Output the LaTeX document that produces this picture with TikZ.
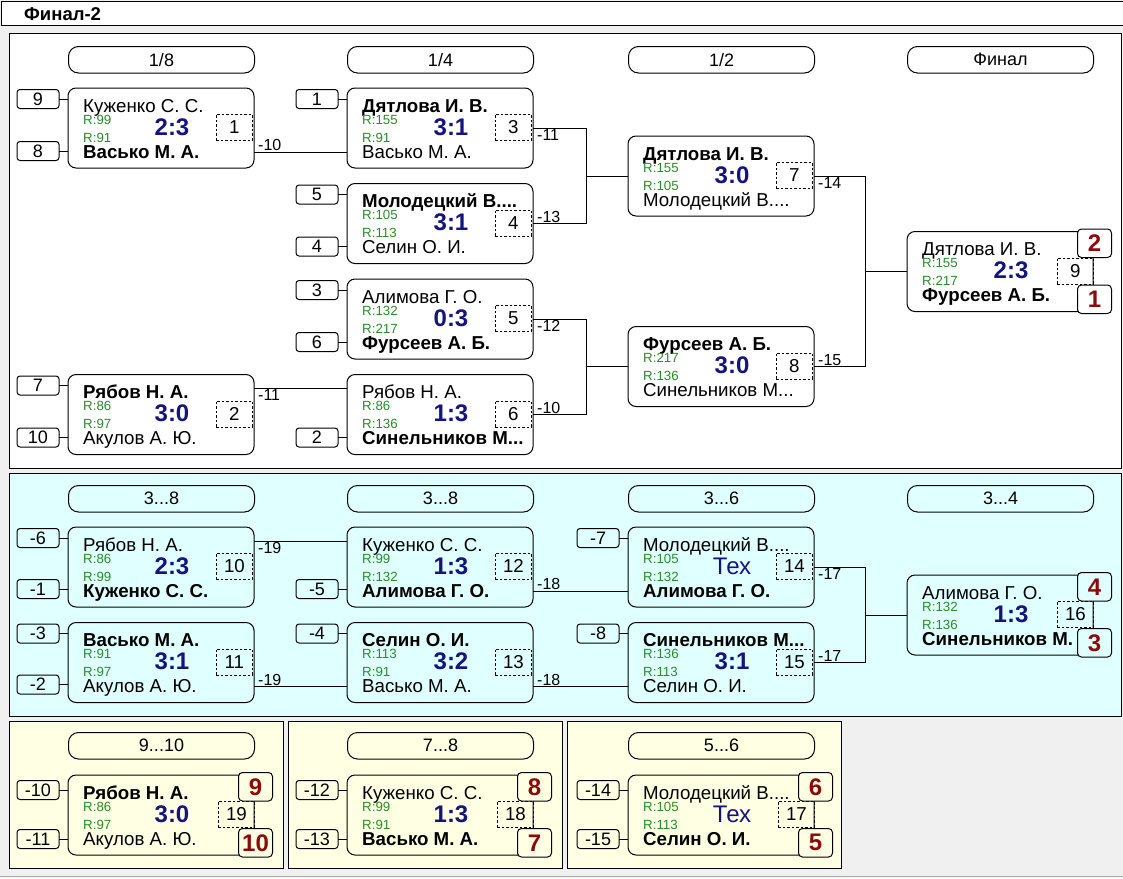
\documentclass[tikz,border=0pt]{standalone}
\usepackage{fontspec}
\setmainfont{Liberation Sans}
\definecolor{bggray}{RGB}{240,240,240}
\definecolor{cyanbg}{RGB}{224,255,255}
\definecolor{yelbg}{RGB}{255,255,228}
\definecolor{scorecol}{RGB}{20,20,128}
\definecolor{rcol}{RGB}{40,140,40}
\definecolor{placecol}{RGB}{140,10,10}
\definecolor{edgegray}{RGB}{170,170,170}
\tikzset{
  hdrbox/.style={draw, line width=1pt, rounded corners=10pt, minimum width=186pt, minimum height=26.5pt, inner sep=0pt, anchor=north west, font=\fontsize{18}{20}\selectfont},
  matchbox/.style={draw, line width=1pt, rounded corners=8pt, minimum width=186pt, minimum height=80pt, inner sep=0pt, outer sep=0pt, anchor=north west},
  seedbox/.style={draw, line width=1pt, rounded corners=3pt, minimum width=42pt, minimum height=19pt, inner sep=0pt, outer sep=0pt, font=\fontsize{18}{20}\selectfont},
  numbox/.style={draw, dash pattern=on 2.5pt off 2pt, line width=0.8pt, minimum width=36pt, minimum height=26pt, inner sep=0pt, anchor=north west, font=\fontsize{18.7}{20}\selectfont},
  placebox/.style={draw, line width=1pt, rounded corners=4pt, minimum width=34pt, minimum height=28.5pt, inner sep=0pt, anchor=north west, font=\fontsize{24}{26}\selectfont\bfseries, text=placecol},
  nametext/.style={anchor=base west, inner sep=0pt, font=\fontsize{18.7}{20}\selectfont},
  rtext/.style={anchor=base west, inner sep=0pt, text=rcol, font=\fontsize{13.3}{14}\selectfont},
  scoretext/.style={anchor=base, inner sep=0pt, text=scorecol, font=\fontsize{24}{26}\selectfont\bfseries},
  lbl/.style={inner sep=0pt, font=\fontsize{16}{17}\selectfont},
  conn/.style={line width=1pt},
}
% #1 number, #2 L, #3 T, #4 top name, #5 R1, #6 R2, #7 score, #8 bottom name, #9 dashed box x offset
\newcommand{\mt}[9]{%
  \node[matchbox] (m#1) at (#2,#3) {};
  \node[nametext] (m#1t) at (#2+15,#3+24) {#4};
  \node[rtext] (m#1ra) at (#2+15,#3+36) {R:#5};
  \node[rtext] (m#1rb) at (#2+15,#3+54) {R:#6};
  \node[scoretext] (m#1s) at (#2+104,#3+47) {#7};
  \node[nametext] (m#1b) at (#2+15,#3+70) {#8};
  \node[numbox] (m#1n) at (#2+#9,#3+26) {#1};
}
% #1 match number, #2 L, #3 T, #4 text, #5 offset (center y from T)
\newcommand{\sd}[5]{%
  \node[seedbox] (s#1x#5) at (#2-30,#3+#5) {#4};
  \draw[conn] (s#1x#5.east) -- (m#1.west |- s#1x#5);
}
% #1 match number, #2 L, #3 T, #4 top place, #5 bottom place, #6 fill
\newcommand{\pl}[6]{%
  \node[placebox, fill=#6] (p#1a) at (#2+170,#3-3) {#4};
  \node[placebox, fill=#6] (p#1b) at (#2+170,#3+53) {#5};
}
\begin{document}
\begin{tikzpicture}[x=1pt,y=-1pt]
\useasboundingbox (0,0) rectangle (1123,878);
\fill[bggray] (0,0) rectangle (1123,878);
\draw[line width=1pt, fill=white] (1,1) rectangle (1130,25);
\node[anchor=base west, inner sep=0pt, font=\fontsize{18.5}{20}\selectfont\bfseries] (title) at (24,20) {Финал-2};
\draw[edgegray, line width=1pt] (0,876) -- (1123,876);

% panels
\draw[line width=1pt, fill=white] (9.5,33) rectangle (1121,468);
\draw[line width=1pt, fill=cyanbg] (9.5,473.5) rectangle (1121,716);
\draw[line width=1pt, fill=yelbg] (9.5,721) rectangle (283,868);
\draw[line width=1pt, fill=yelbg] (288,721) rectangle (562,868);
\draw[line width=1pt, fill=yelbg] (567,721) rectangle (841,868);

% headers
\node[hdrbox] (h1) at (68,46) {1/8};
\node[hdrbox] (h2) at (347,46) {1/4};
\node[hdrbox] (h3) at (628,46) {1/2};
\node[hdrbox] (h4) at (907,46) {Финал};
\node[hdrbox] (h5) at (68,485) {3...8};
\node[hdrbox] (h6) at (347,485) {3...8};
\node[hdrbox] (h7) at (628,485) {3...6};
\node[hdrbox] (h8) at (907,485) {3...4};
\node[hdrbox] (h9) at (68,732) {9...10};
\node[hdrbox] (h10) at (347,732) {7...8};
\node[hdrbox] (h11) at (628,732) {5...6};

% ---------- main panel
\mt{1}{68}{88}{Куженко С. С.}{99}{91}{2:3}{\bfseries Васько М. А.}{148}
\sd{1}{68}{88}{9}{11}\sd{1}{68}{88}{8}{63}
\mt{2}{68}{374.5}{\bfseries Рябов Н. А.}{86}{97}{3:0}{Акулов А. Ю.}{148}
\sd{2}{68}{374.5}{7}{11}\sd{2}{68}{374.5}{10}{63}
\mt{3}{347}{88}{\bfseries Дятлова И. В.}{155}{91}{3:1}{Васько М. А.}{148}
\sd{3}{347}{88}{1}{11}
\mt{4}{347}{183.5}{\bfseries Молодецкий В....}{105}{113}{3:1}{Селин О. И.}{148}
\sd{4}{347}{183.5}{5}{11}\sd{4}{347}{183.5}{4}{63}
\mt{5}{347}{279}{Алимова Г. О.}{132}{217}{0:3}{\bfseries Фурсеев А. Б.}{148}
\sd{5}{347}{279}{3}{11}\sd{5}{347}{279}{6}{63}
\mt{6}{347}{374.5}{Рябов Н. А.}{86}{136}{1:3}{\bfseries Синельников М...}{148}
\sd{6}{347}{374.5}{2}{63}
\mt{7}{628}{136}{\bfseries Дятлова И. В.}{155}{105}{3:0}{Молодецкий В....}{148}
\mt{8}{628}{326.5}{\bfseries Фурсеев А. Б.}{217}{136}{3:0}{Синельников М...}{148}
\mt{9}{907}{231.5}{Дятлова И. В.}{155}{217}{2:3}{\bfseries Фурсеев А. Б.}{150}
\pl{9}{907}{231.5}{2}{1}{white}

\coordinate (m3in) at (347,152);
\draw[conn] (m1.east |- m3in) -- (m3in);
\node[lbl, anchor=south west] (l1) at ([xshift=4pt,yshift=1pt]m1.east |- m3in) {-10};
\coordinate (m6in) at (347,388.5);
\draw[conn] (m2.east |- m6in) -- (m6in);
\node[lbl, anchor=north west] (l2) at ([xshift=4pt,yshift=-1pt]m2.east |- m6in) {-11};

\coordinate (j7) at (586,176);
\draw[conn] (m3.east) -| (j7);
\draw[conn] (m4.east) -| (j7);
\draw[conn] (j7) -- (m7.west);
\node[lbl, anchor=north west] (l3) at ([xshift=4pt,yshift=-1pt]m3.east) {-11};
\node[lbl, anchor=south west] (l4) at ([xshift=4pt,yshift=1pt]m4.east) {-13};
\coordinate (j8) at (586,366.5);
\draw[conn] (m5.east) -| (j8);
\draw[conn] (m6.east) -| (j8);
\draw[conn] (j8) -- (m8.west);
\node[lbl, anchor=north west] (l5) at ([xshift=4pt,yshift=-1pt]m5.east) {-12};
\node[lbl, anchor=south west] (l6) at ([xshift=4pt,yshift=1pt]m6.east) {-10};
\coordinate (j9) at (865,271.5);
\draw[conn] (m7.east) -| (j9);
\draw[conn] (m8.east) -| (j9);
\draw[conn] (j9) -- (m9.west);
\node[lbl, anchor=north west] (l7) at ([xshift=4pt,yshift=-1pt]m7.east) {-14};
\node[lbl, anchor=south west] (l8) at ([xshift=4pt,yshift=1pt]m8.east) {-15};

% ---------- cyan panel
\mt{10}{68}{527}{Рябов Н. А.}{86}{99}{2:3}{\bfseries Куженко С. С.}{148}
\sd{10}{68}{527}{-6}{11}\sd{10}{68}{527}{-1}{62}
\mt{11}{68}{622.5}{\bfseries Васько М. А.}{91}{97}{3:1}{Акулов А. Ю.}{148}
\sd{11}{68}{622.5}{-3}{11}\sd{11}{68}{622.5}{-2}{62}
\mt{12}{347}{527}{Куженко С. С.}{99}{132}{1:3}{\bfseries Алимова Г. О.}{148}
\sd{12}{347}{527}{-5}{62}
\mt{13}{347}{622.5}{\bfseries Селин О. И.}{113}{91}{3:2}{Васько М. А.}{148}
\sd{13}{347}{622.5}{-4}{11}
\mt{14}{628}{527}{Молодецкий В....}{105}{132}{\mdseries Тех}{\bfseries Алимова Г. О.}{148}
\sd{14}{628}{527}{-7}{11}
\mt{15}{628}{622.5}{\bfseries Синельников М...}{136}{113}{3:1}{Селин О. И.}{148}
\sd{15}{628}{622.5}{-8}{11}
\mt{16}{907}{575}{Алимова Г. О.}{132}{136}{1:3}{\bfseries Синельников М.}{150}
\pl{16}{907}{575}{4}{3}{cyanbg}

\coordinate (m12in) at (347,541);
\draw[conn] (m10.east |- m12in) -- (m12in);
\node[lbl, anchor=north west] (l9) at ([xshift=4pt,yshift=-1pt]m10.east |- m12in) {-19};
\coordinate (m13in) at (347,686.5);
\draw[conn] (m11.east |- m13in) -- (m13in);
\node[lbl, anchor=south west] (l10) at ([xshift=4pt,yshift=1pt]m11.east |- m13in) {-19};
\coordinate (m14in) at (628,591);
\draw[conn] (m12.east |- m14in) -- (m14in);
\node[lbl, anchor=south west] (l11) at ([xshift=4pt,yshift=1pt]m12.east |- m14in) {-18};
\coordinate (m15in) at (628,686.5);
\draw[conn] (m13.east |- m15in) -- (m15in);
\node[lbl, anchor=south west] (l12) at ([xshift=4pt,yshift=1pt]m13.east |- m15in) {-18};
\coordinate (j16) at (865,615);
\draw[conn] (m14.east) -| (j16);
\draw[conn] (m15.east) -| (j16);
\draw[conn] (j16) -- (m16.west);
\node[lbl, anchor=north west] (l13) at ([xshift=4pt,yshift=-1pt]m14.east) {-17};
\node[lbl, anchor=south west] (l14) at ([xshift=4pt,yshift=1pt]m15.east) {-17};

% ---------- bottom panels
\mt{19}{68}{775}{\bfseries Рябов Н. А.}{86}{97}{3:0}{Акулов А. Ю.}{150}
\sd{19}{68}{775}{-10}{15}\sd{19}{68}{775}{-11}{64}
\pl{19}{68}{775}{9}{10}{yelbg}
\mt{18}{347}{775}{Куженко С. С.}{99}{91}{1:3}{\bfseries Васько М. А.}{150}
\sd{18}{347}{775}{-12}{15}\sd{18}{347}{775}{-13}{64}
\pl{18}{347}{775}{8}{7}{yelbg}
\mt{17}{628}{775}{Молодецкий В....}{105}{113}{\mdseries Тех}{\bfseries Селин О. И.}{150}
\sd{17}{628}{775}{-14}{15}\sd{17}{628}{775}{-15}{64}
\pl{17}{628}{775}{6}{5}{yelbg}
\end{tikzpicture}
\end{document}
